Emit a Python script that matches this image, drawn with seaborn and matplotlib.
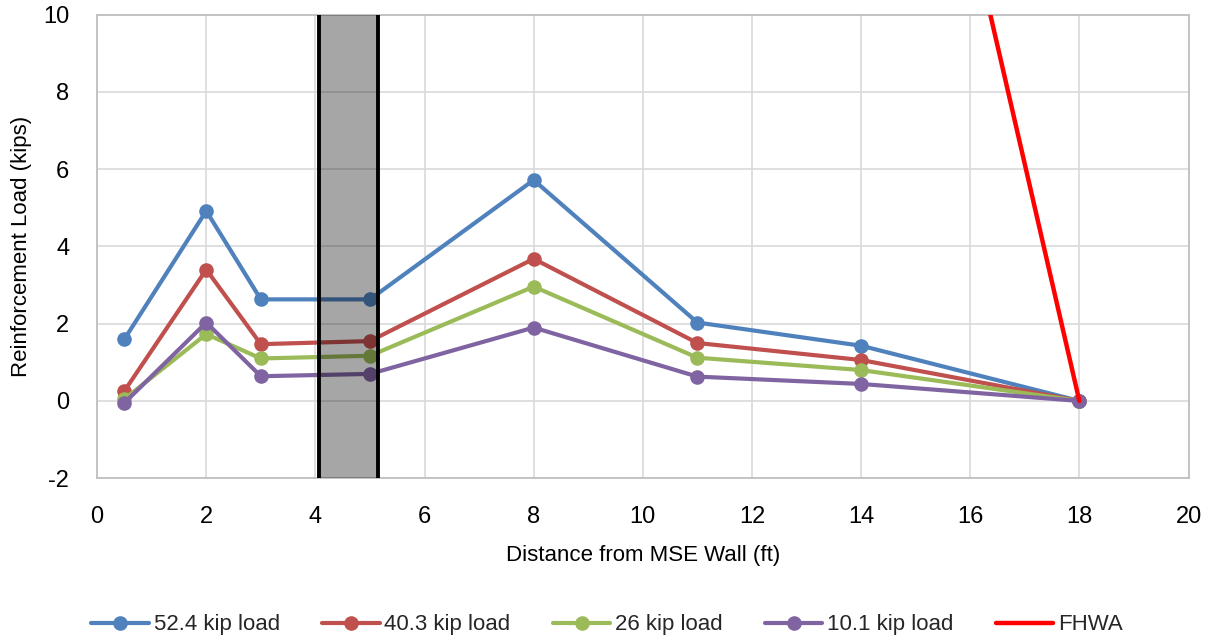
import seaborn as sns
import pandas as pd
import numpy as np
import matplotlib.pyplot as plt
from matplotlib.lines import Line2D

# distances from wall (ft)
dist = [0.5, 2, 3, 5, 8, 11, 14, 18]

load_52 = [1.60, 4.92, 2.63, 2.63, 5.72, 2.03, 1.43, 0.0]
load_40 = [0.26, 3.40, 1.47, 1.55, 3.68, 1.50, 1.06, 0.0]
load_26 = [0.05, 1.73, 1.10, 1.17, 2.96, 1.12, 0.80, 0.0]
load_10 = [-0.05, 2.03, 0.64, 0.70, 1.90, 0.63, 0.44, 0.0]

fhwa_x = [16.0, 18.0]
fhwa_y = [12.26, 0.0]

wall_zone = (4.07, 5.15)

series = ['52.4 kip load', '40.3 kip load', '26 kip load', '10.1 kip load']
values = [load_52, load_40, load_26, load_10]
colors = ['#4F81BD', '#C0504D', '#9BBB59', '#8064A2']

sns.set_style('white')
plt.rcParams['font.family'] = ['Liberation Sans', 'DejaVu Sans']
plt.rcParams['axes.unicode_minus'] = False

fig = plt.figure(figsize=(12.14, 6.41), dpi=100)
ax = fig.add_axes([0.080, 0.254, 0.899, 0.723])

handles = []
for name, vals, c in zip(series, values, colors):
    df = pd.DataFrame({'x': dist, 'y': vals})
    sns.lineplot(data=df, x='x', y='y', ax=ax, color=c, lw=3, marker='o',
                 markersize=10.5, markeredgecolor=c, markeredgewidth=0,
                 legend=False, zorder=3)
    handles.append(Line2D([], [], color=c, lw=3, marker='o', markersize=10.5,
                          markeredgewidth=0, label=name))

sns.lineplot(x=fhwa_x, y=fhwa_y, ax=ax, color='#FF0000', lw=3.2,
             legend=False, zorder=3)
handles.append(Line2D([], [], color='#FF0000', lw=3.2, label='FHWA'))

ax.axvspan(wall_zone[0], wall_zone[1], color='black', alpha=0.35, lw=0, zorder=4)
for xv in wall_zone:
    ax.axvline(xv, color='black', lw=2.8, zorder=5)

ax.set_xlim(0, 20)
ax.set_ylim(-2, 10)
ax.set_xticks(np.arange(0, 21, 2))
ax.set_yticks(np.arange(-2, 11, 2))
ax.grid(True, color='#D9D9D9', lw=1.2)
ax.set_axisbelow(True)
for s in ax.spines.values():
    s.set_color('#BFBFBF')
    s.set_linewidth(1.3)
ax.tick_params(axis='both', length=0, labelsize=17, labelcolor='black')
ax.tick_params(axis='x', pad=20)
ax.tick_params(axis='y', pad=20)
ax.set_xlabel('Distance from MSE Wall (ft)', fontsize=16, labelpad=12, color='black')
ax.set_ylabel('Reinforcement Load (kips)', fontsize=16, labelpad=8, color='black')

fig.legend(handles=handles, loc='center', bbox_to_anchor=(0.5, 0.025),
           ncol=5, frameon=False, fontsize=16, handlelength=2.6, columnspacing=1.9,
           handletextpad=0.2)

fig.savefig('out.png', dpi=100)
